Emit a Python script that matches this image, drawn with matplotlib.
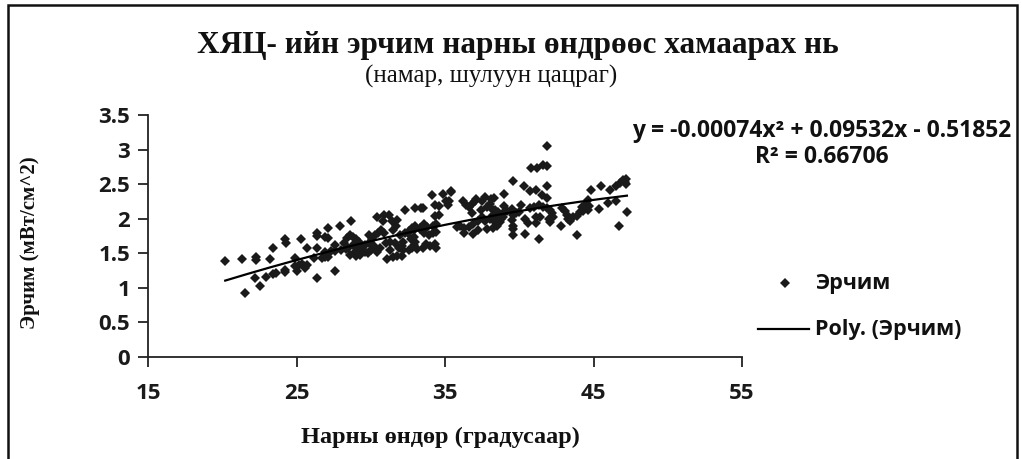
import numpy as np
import matplotlib
matplotlib.use("Agg")
import matplotlib.pyplot as plt
from matplotlib.lines import Line2D
from matplotlib.patches import Rectangle

# --- data ---
sun_height = [
    20.2, 21.3, 22.3, 22.3, 21.5, 22.55, 22.2, 23.2, 23.4, 22.95, 23.4, 23.6, 24.2, 24.3, 24.2, 24.25,
    25.3, 25.7, 24.9, 24.9, 25.2, 25.4, 25.5, 25.7, 26.35, 26.2, 26.35, 26.4, 26.95, 27.1, 26.7, 26.9,
    27.1, 27.6, 27.95, 28.7, 27.6, 25.0, 25.6,
    27.1, 26.4, 26.9, 27.3, 27.6, 28.0, 28.3, 28.5,
    28.2, 28.4, 28.6, 28.8, 29.0, 29.2, 28.8, 29.1, 29.4, 29.6, 29.2, 29.5,
    29.8, 30.0, 30.2, 29.9, 30.1, 28.9, 29.3, 30.4,
    29.85, 30.3, 30.5, 30.7, 30.9,
    30.4, 30.9, 31.2, 30.8, 31.4, 31.8, 31.7, 31.5,
    32.3, 33.5,
    31.0, 31.3, 31.6, 31.3, 31.9, 32.2,
    31.1, 31.5, 31.8, 32.1,
    32.0, 32.3, 32.5, 32.9, 33.3,
    32.7, 32.9, 32.8, 32.6, 33.1, 32.2, 32.1,
    39.6, 40.3, 34.1, 34.85, 35.4, 38.95,
    33.0, 33.4, 34.3, 34.6, 35.3, 35.2, 34.6, 34.3,
    36.2, 36.4, 36.6, 36.8, 37.0, 37.1, 37.5, 37.7, 37.8, 38.0, 38.1, 38.4, 38.6, 38.3, 38.5, 38.0,
    37.7, 38.4, 38.6,
    36.0, 36.3, 36.6, 36.9, 37.2, 37.5,
    38.95, 39.2, 39.5, 39.5, 39.6,
    33.0, 33.3, 33.6, 33.8, 34.2, 34.4,
    33.6, 33.9, 34.2, 34.4,
    32.9, 33.0, 33.7, 34.0, 34.3, 34.4, 33.5,
    32.6, 32.8,
    35.1, 35.4, 36.3, 36.9, 37.2, 37.8, 38.2,
    41.9, 40.8, 41.2, 41.6, 41.9,
    40.7, 41.1, 41.85, 41.5, 41.85, 40.15,
    40.7, 41.0, 41.3, 41.6, 41.85, 42.1, 42.2, 41.1, 41.4, 42.0, 42.1, 42.3,
    40.6, 41.1, 41.3, 42.8, 43.9,
    42.9, 43.1, 43.2, 43.3, 43.4,
    43.6, 43.9, 44.1, 44.3, 44.6, 44.7, 44.2, 44.5, 44.6,
    44.8, 45.5, 46.1, 45.4, 46.0, 46.5,
    46.5, 46.8, 47.0, 47.2, 47.1, 47.2,
    47.25, 46.7,
    38.1, 38.3, 38.5, 38.8, 39.0, 38.2, 38.7, 39.6, 39.6, 40.4,
    39.6, 40.0, 40.4, 39.8,
    29.0, 29.6, 30.6, 28.6, 36.8, 37.4, 38.9, 35.8,
]
intensity = [
    1.39, 1.42, 1.45, 1.40, 0.93, 1.02, 1.14, 1.42, 1.57, 1.16, 1.20, 1.21, 1.70, 1.65, 1.26, 1.23,
    1.71, 1.57, 1.43, 1.31, 1.33, 1.35, 1.31, 1.33, 1.14, 1.43, 1.79, 1.75, 1.74, 1.86, 1.43, 1.45,
    1.44, 1.24, 1.90, 1.97, 1.62, 1.25, 1.28,
    1.72, 1.58, 1.52, 1.53, 1.54, 1.55, 1.56, 1.58,
    1.65, 1.72, 1.77, 1.74, 1.70, 1.67, 1.62, 1.58, 1.60, 1.62, 1.55, 1.55,
    1.50, 1.55, 1.60, 1.65, 1.70, 1.50, 1.48, 1.52,
    1.77, 1.77, 1.80, 1.83, 1.80,
    2.03, 2.05, 2.05, 1.96, 1.96, 1.98, 1.89, 1.83,
    2.13, 2.15,
    1.65, 1.67, 1.65, 1.55, 1.58, 1.67,
    1.42, 1.44, 1.46, 1.46,
    1.77, 1.79, 1.80, 1.83, 1.86,
    1.70, 1.62, 1.58, 1.55, 1.56, 1.55, 1.60,
    2.54, 2.47, 2.35, 2.36, 2.39, 2.36,
    2.15, 2.15, 2.20, 2.19, 2.25, 2.20, 2.06, 2.04,
    2.25, 2.20, 2.17, 2.22, 2.25, 2.29, 2.25, 2.32, 2.17, 2.22, 2.15, 2.12, 2.10, 2.05, 2.02, 2.00,
    1.97, 1.95, 1.95,
    1.90, 1.86, 1.88, 1.92, 1.97, 2.02,
    2.18, 2.11, 2.14, 1.98, 1.89,
    1.90, 1.85, 1.92, 1.88, 1.90, 1.92,
    1.79, 1.77, 1.79, 1.81,
    1.74, 1.67, 1.63, 1.60, 1.63, 1.58, 1.58,
    1.82, 1.87,
    2.25, 2.40, 1.80, 1.78, 1.83, 1.85, 1.87,
    3.05, 2.73, 2.73, 2.78, 2.76,
    2.40, 2.42, 2.48, 2.35, 2.30, 2.20,
    2.15, 2.17, 2.20, 2.17, 2.15, 2.13, 2.08, 2.03, 2.03, 2.00, 1.95, 2.03,
    1.94, 1.94, 1.70, 1.89, 1.77,
    2.15, 2.11, 2.06, 1.99, 1.97,
    2.02, 2.04, 2.09, 2.11, 2.13, 2.18, 2.17, 2.22, 2.27,
    2.42, 2.47, 2.42, 2.14, 2.23, 2.25,
    2.47, 2.52, 2.56, 2.58, 2.53, 2.50,
    2.09, 1.89,
    2.28, 2.30, 1.90, 2.00, 2.10, 2.05, 1.95, 1.76, 1.85, 1.78,
    2.05, 2.10, 2.00, 2.08,
    1.46, 1.52, 1.58, 1.48, 2.08, 2.12, 2.03, 1.88,
]
poly_coef = [-0.00074, 0.09532, -0.51852]   # from the trendline equation
r_squared = "0.66706"
x_ticks = [15, 25, 35, 45, 55]
y_ticks = [0, 0.5, 1, 1.5, 2, 2.5, 3, 3.5]

title = "ХЯЦ- ийн эрчим нарны өндрөөс хамаарах нь"
subtitle = "(намар, шулуун цацраг)"
xlabel = "Нарны өндөр (градусаар)"
ylabel = "Эрчим (мВт/см^2)"
series_name = "Эрчим"
trend_name = "Poly. (Эрчим)"

# --- figure ---
W, H = 1022, 459
fig = plt.figure(figsize=(W / 100, H / 100), dpi=100)
fig.patch.set_facecolor("white")

def fx(px):
    return px / W

def fy(py):
    return 1 - py / H

ax = fig.add_axes([fx(148), fy(357), fx(742) - fx(148), fy(115) - fy(357)])

ax.plot(sun_height, intensity, linestyle="none", marker="D", markersize=4.8,
        color="#1a1a1a", markeredgewidth=0)

xs = np.linspace(min(sun_height), max(sun_height), 200)
ax.plot(xs, np.polyval(poly_coef, xs), color="black", lw=1.6)

ax.set_xlim(x_ticks[0], x_ticks[-1])
ax.set_ylim(y_ticks[0], y_ticks[-1])
ax.set_xticks(x_ticks)
ax.set_yticks(y_ticks)
ax.set_yticklabels([("%g" % v) for v in y_ticks])
for s in ["top", "right"]:
    ax.spines[s].set_visible(False)
for s in ["left", "bottom"]:
    ax.spines[s].set_linewidth(1.3)
    ax.spines[s].set_color("#222222")
ax.tick_params(direction="out", length=7, width=1.3, color="#222222", labelsize=16, pad=6)
for lbl in ax.get_xticklabels() + ax.get_yticklabels():
    lbl.set_fontfamily("Open Sans")
    lbl.set_fontweight("bold")
    lbl.set_color("#1a1a1a")
ax.tick_params(axis="x", pad=12)

# titles
fig.text(fx(518), fy(45), title, ha="center", va="center", fontsize=22.5,
         fontfamily="Liberation Serif", fontweight="bold", color="#111111")
fig.text(fx(491), fy(76), subtitle, ha="center", va="center", fontsize=18,
         fontfamily="Liberation Serif", color="#111111")
fig.text(fx(440), fy(437), xlabel, ha="center", va="center", fontsize=17.5,
         fontfamily="Liberation Serif", fontweight="bold", color="#111111")
fig.text(fx(30), fy(243), ylabel, ha="center", va="center", rotation=90, fontsize=15,
         fontfamily="Liberation Serif", fontweight="bold", color="#111111")

# equation
a, b, c = poly_coef
eq = "y = %.5fx² + %.5fx - %.5f" % (a, b, -c)
fig.text(fx(822), fy(131), eq, ha="center", va="center", fontsize=16.5,
         fontfamily="Open Sans", fontweight="bold", color="#111111")
fig.text(fx(822), fy(157), "R² = " + r_squared, ha="center", va="center", fontsize=16.5,
         fontfamily="Open Sans", fontweight="bold", color="#111111")

# legend
fig.add_artist(Line2D([fx(785)], [fy(283)], marker="D", markersize=4.8, color="#1a1a1a",
                      markeredgewidth=0, linestyle="none"))
fig.text(fx(815), fy(283), series_name, ha="left", va="center", fontsize=15.5,
         fontfamily="Open Sans", fontweight="bold", color="#111111")
fig.add_artist(Line2D([fx(758), fx(809)], [fy(329), fy(329)], color="black", lw=1.6))
fig.text(fx(815), fy(329), trend_name, ha="left", va="center", fontsize=15.5,
         fontfamily="Open Sans", fontweight="bold", color="#111111")

# outer frame
fig.add_artist(Rectangle((fx(8), fy(470)), fx(1017) - fx(8), fy(5) - fy(470),
                         fill=False, edgecolor="#111111", lw=1.8, transform=fig.transFigure))

fig.savefig("out.png", dpi=100, facecolor="white")
